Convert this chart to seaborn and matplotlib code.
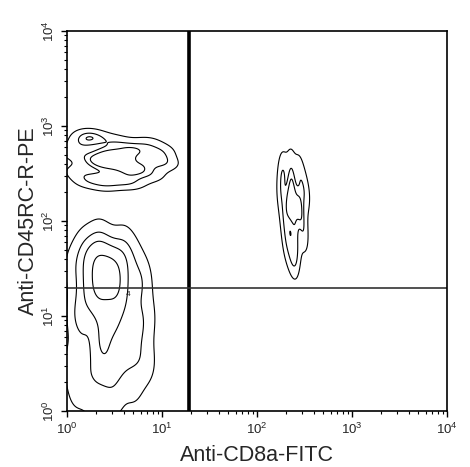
import numpy as np
import matplotlib
matplotlib.use("Agg")
import matplotlib.pyplot as plt
from matplotlib.ticker import LogLocator, NullFormatter
import seaborn as sns

# -------------------------
# Data (log10 decades of each event)
# -------------------------
low_left_x = [0.25, 0.35, 0.45, 0.55, 0.25, 0.35, 0.45, 0.55, 0.25, 0.35,
              0.45, 0.55, 0.30, 0.40, 0.50,
              0.15, 0.32, 0.47, 0.62, 0.75, 0.18, 0.36, 0.50, 0.64, 0.78,
              0.12, 0.28, 0.42, 0.58, 0.72, 0.16, 0.34, 0.48, 0.62, 0.76,
              0.15, 0.30, 0.45, 0.60, 0.70, 0.40, 0.50, 0.35,
              0.05, 0.10, 0.05, 0.10, 0.30, 0.50, 0.70, 0.85, 0.85, 0.80,
              0.60, 0.35, 0.20, 0.40, 0.55, 0.25]
low_left_y = [1.22, 1.18, 1.24, 1.20, 1.36, 1.33, 1.38, 1.34, 1.50, 1.52,
              1.48, 1.50, 1.62, 1.60, 1.58,
              0.45, 0.55, 0.48, 0.58, 0.52, 0.78, 0.72, 0.84, 0.76, 0.82,
              1.02, 1.08, 0.98, 1.06, 1.00, 1.28, 1.24, 1.30, 1.26, 1.32,
              1.62, 1.66, 1.64, 1.58, 1.60, 0.65, 0.92, 0.85,
              1.50, 1.00, 0.50, 0.20, 0.05, 0.10, 0.25, 0.50, 1.00, 1.40,
              1.75, 1.80, 1.70, 0.30, 0.40, 0.30]

up_left_x = [0.05, 0.10, 0.15, 0.20, 0.25, 0.30, 0.35, 0.40, 0.45, 0.50,
             0.55, 0.60, 0.65, 0.70, 0.75, 0.80, 0.85, 0.90, 0.95, 1.00,
             1.05, 0.40, 0.35, 0.50, 0.60, 0.20, 0.70]
up_left_y = [2.72, 2.52, 2.82, 2.42, 2.65, 2.88, 2.47, 2.72, 2.60, 2.84,
             2.42, 2.66, 2.78, 2.52, 2.72, 2.58, 2.82, 2.48, 2.66, 2.74,
             2.60, 2.38, 2.62, 2.68, 2.56, 2.90, 2.40]

right_x = [2.28, 2.36, 2.44, 2.26, 2.36, 2.48, 2.25, 2.34, 2.44, 2.52,
           2.28, 2.38, 2.48, 2.30, 2.40, 2.50, 2.32, 2.42, 2.36, 2.40,
           2.34, 2.44, 2.38]
right_y = [2.58, 2.62, 2.55, 2.45, 2.42, 2.40, 2.28, 2.22, 2.20, 2.25,
           2.08, 2.05, 2.00, 1.90, 1.88, 1.82, 1.74, 1.70, 1.62, 1.55,
           2.15, 2.12, 2.30]

quad_x = 19.2
quad_y = 19.7

x_label = "Anti-CD8a-FITC"
y_label = "Anti-CD45RC-R-PE"

# -------------------------
# Plot
# -------------------------
sns.set_style("ticks")
plt.rcParams["font.family"] = ["Liberation Sans", "DejaVu Sans"]

fig = plt.figure(figsize=(4.70, 4.67), dpi=100)
ax = fig.add_axes([0.1426, 0.1199, 0.8085, 0.8137])

populations = [
    (low_left_x, low_left_y, [0.06, 0.3, 0.6, 0.85], 0.75),
    (up_left_x, up_left_y, [0.1, 0.4, 0.75], 0.7),
    (right_x, right_y, [0.1, 0.45, 0.8], 0.75),
]
for px, py, lv, bw in populations:
    sns.kdeplot(x=10 ** np.array(px), y=10 ** np.array(py), log_scale=True,
                levels=lv, bw_adjust=bw, color="black", linewidths=0.8, ax=ax)

ax.axvline(quad_x, color="black", lw=2.6)
ax.axhline(quad_y, color="#333333", lw=1.2)

ax.set_xscale("log")
ax.set_yscale("log")
ax.set_xlim(1, 1e4)
ax.set_ylim(1, 1e4)

for a in (ax.xaxis, ax.yaxis):
    a.set_major_locator(LogLocator(base=10, numticks=10))
    a.set_minor_locator(LogLocator(base=10, subs=np.arange(2, 10), numticks=10))
    a.set_minor_formatter(NullFormatter())

ax.tick_params(which="major", direction="out", length=4, width=1, labelsize=9.5, color="black")
ax.tick_params(which="minor", direction="out", length=2, width=0.8, color="black")
for lbl in ax.get_yticklabels():
    lbl.set_rotation(90)
    lbl.set_va("center")

for s in ax.spines.values():
    s.set_color("black")
    s.set_linewidth(1.2)

ax.text(4.2, quad_y * 0.93, "4", fontsize=6, va="top")

ax.set_xlabel(x_label, fontsize=15.5, labelpad=6)
ax.set_ylabel(y_label, fontsize=15.5, labelpad=2)

fig.savefig("out.png", dpi=100)
